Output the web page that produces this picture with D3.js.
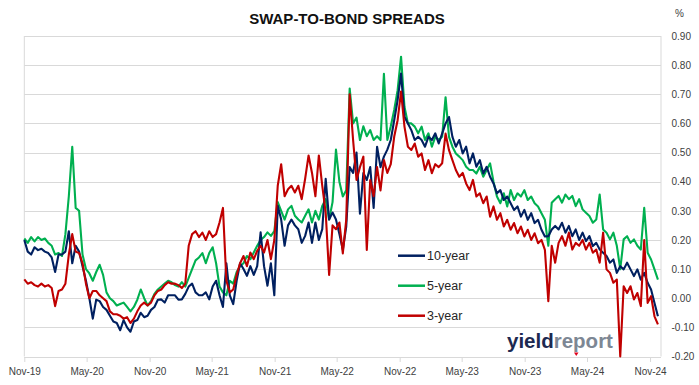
<!DOCTYPE html>
<html>
<head>
<meta charset="utf-8">
<title>Swap-to-bond spreads</title>
<script src="https://cdn.jsdelivr.net/npm/d3@7"></script>
<style>
    body { margin: 0; background: #fff; }
    svg { display: block; font-family: "Liberation Sans", Arial, sans-serif; }
</style>
</head>
<body>
<div id="chart"></div>
<script>
// Readings taken every 10 days, starting 1 Nov 2019
const startDate = "2019-11-01";
const stepDays = 10;
const axisEnd = "2024-12-03";

const tenYear = [
    0.20, 0.16, 0.15, 0.175, 0.165, 0.17, 0.16, 0.155, 0.14, 0.09,
    0.15, 0.15, 0.16, 0.23, 0.12, 0.18, 0.16, 0.11, 0.06, 0.0,
    -0.07, -0.005, -0.01, -0.03, -0.04, -0.06, -0.08, -0.085, -0.11, -0.075,
    -0.10, -0.115, -0.08, -0.075, -0.05, -0.065, -0.06, -0.04, -0.03, -0.005,
    -0.004, -0.015, 0.01, 0.01, 0.01, -0.005, -0.004, 0.015, 0.04, 0.05,
    0.02, 0.01, 0.01, 0.02, -0.004, 0.04, 0.06, 0.01, -0.03, 0.12,
    0.01, -0.02, 0.06, 0.12, 0.10, 0.077, 0.11, 0.08, 0.11, 0.226,
    0.11, 0.043, 0.12, 0.01, 0.317, 0.27, 0.18, 0.25, 0.27, 0.25,
    0.237, 0.19, 0.214, 0.26, 0.19, 0.26, 0.20, 0.237, 0.41, 0.27,
    0.294, 0.27, 0.22, 0.166, 0.246, 0.45, 0.43, 0.50, 0.29, 0.43,
    0.406, 0.45, 0.31, 0.52, 0.45, 0.486, 0.51, 0.543, 0.611, 0.68,
    0.771, 0.623, 0.60, 0.577, 0.543, 0.554, 0.543, 0.52, 0.554, 0.543,
    0.566, 0.531, 0.565, 0.60, 0.622, 0.554, 0.52, 0.543, 0.497, 0.52,
    0.463, 0.497, 0.451, 0.474, 0.428, 0.451, 0.417, 0.394, 0.36, 0.371,
    0.337, 0.349, 0.326, 0.303, 0.315, 0.28, 0.303, 0.269, 0.292, 0.258,
    0.269, 0.235, 0.212, 0.213, 0.236, 0.248, 0.236, 0.259, 0.225, 0.248,
    0.213, 0.236, 0.20, 0.225, 0.196, 0.213, 0.179, 0.19, 0.167, 0.156,
    0.145, 0.122, 0.133, 0.087, 0.11, 0.099, 0.122, 0.099, 0.076, 0.099,
    0.064, 0.087, 0.053, 0.03, -0.016, -0.062
];

const fiveYear = [
    0.205, 0.19, 0.21, 0.195, 0.21, 0.20, 0.205, 0.19, 0.18, 0.15,
    0.155, 0.145, 0.22, 0.35, 0.52, 0.31, 0.30, 0.15, 0.10, 0.085,
    0.06, 0.09, 0.115, 0.08, 0.02, 0.0, -0.01, -0.025, -0.02, -0.015,
    -0.03, -0.045, -0.03, -0.005, 0.03, 0.0, -0.025, -0.01, 0.015, 0.03,
    0.04, 0.05, 0.06, 0.055, 0.045, 0.04, 0.055, 0.04, 0.07, 0.10,
    0.13, 0.14, 0.155, 0.12, 0.155, 0.175, 0.12, 0.04, 0.02, 0.01,
    0.06, 0.05, 0.09, 0.11, 0.12, 0.145, 0.134, 0.157, 0.18, 0.20,
    0.21, 0.226, 0.214, 0.23, 0.33, 0.30, 0.27, 0.305, 0.317, 0.283,
    0.27, 0.26, 0.283, 0.305, 0.26, 0.30, 0.27, 0.317, 0.34, 0.27,
    0.33, 0.51, 0.40, 0.349, 0.371, 0.72, 0.60, 0.62, 0.543, 0.59,
    0.556, 0.577, 0.543, 0.556, 0.543, 0.77, 0.543, 0.59, 0.646, 0.714,
    0.829, 0.657, 0.60, 0.60, 0.589, 0.566, 0.589, 0.543, 0.566, 0.52,
    0.554, 0.543, 0.554, 0.69, 0.554, 0.52, 0.497, 0.486, 0.474, 0.451,
    0.44, 0.44, 0.428, 0.451, 0.417, 0.44, 0.463, 0.40, 0.349, 0.326,
    0.36, 0.315, 0.371, 0.337, 0.36, 0.349, 0.371, 0.337, 0.349, 0.326,
    0.315, 0.292, 0.269, 0.18, 0.328, 0.34, 0.351, 0.328, 0.356, 0.34,
    0.351, 0.316, 0.34, 0.305, 0.293, 0.282, 0.259, 0.27, 0.356, 0.236,
    0.225, 0.202, 0.225, 0.18, 0.10, 0.202, 0.213, 0.19, 0.202, 0.18,
    0.167, 0.31, 0.156, 0.133, 0.099, 0.064
];

const threeYear = [
    0.065, 0.05, 0.055, 0.045, 0.04, 0.05, 0.04, 0.045, 0.035, -0.027,
    0.025, 0.03, 0.05, 0.15, 0.22, 0.16, 0.155, 0.12, 0.05, 0.0,
    0.025, 0.025, 0.01, 0.0, -0.01, -0.045, -0.055, -0.055, -0.06, -0.07,
    -0.065, -0.085, -0.07, -0.045, -0.025, -0.015, -0.025, -0.015, 0.01, 0.025,
    0.03, 0.045, 0.055, 0.05, 0.05, 0.045, 0.035, 0.05, 0.18, 0.22,
    0.23, 0.21, 0.225, 0.20, 0.23, 0.21, 0.22, 0.26, 0.31, 0.06,
    0.02, 0.03, 0.08, 0.12, 0.145, 0.11, 0.157, 0.134, 0.163, 0.18,
    0.157, 0.20, 0.134, 0.20, 0.386, 0.46, 0.35, 0.374, 0.386, 0.363,
    0.386, 0.34, 0.41, 0.49, 0.43, 0.35, 0.49, 0.386, 0.294, 0.08,
    0.25, 0.237, 0.26, 0.154, 0.27, 0.70, 0.543, 0.406, 0.45, 0.486,
    0.166, 0.406, 0.35, 0.45, 0.37, 0.474, 0.43, 0.46, 0.554, 0.611,
    0.709, 0.589, 0.52, 0.509, 0.531, 0.486, 0.497, 0.44, 0.474, 0.429,
    0.46, 0.45, 0.463, 0.565, 0.508, 0.474, 0.44, 0.417, 0.43, 0.394,
    0.371, 0.406, 0.349, 0.36, 0.326, 0.349, 0.28, 0.315, 0.269, 0.292,
    0.246, 0.269, 0.235, 0.258, 0.223, 0.246, 0.212, 0.235, 0.20, 0.223,
    0.189, 0.20, 0.166, -0.01, 0.18, 0.122, 0.19, 0.213, 0.18, 0.225,
    0.167, 0.19, 0.18, 0.20, 0.167, 0.19, 0.156, 0.167, 0.122, 0.225,
    0.099, 0.087, 0.053, 0.064, -0.20, 0.041, 0.018, 0.041, -0.004, 0.018,
    -0.027, 0.20, -0.016, 0.007, -0.062, -0.09
];

const seriesNames = ["10-year", "5-year", "3-year"];
const seriesColors = ["#002060", "#00b050", "#c00000"];

const tickLabels = ["Nov-19", "May-20", "Nov-20", "May-21", "Nov-21", "May-22",
    "Nov-22", "May-23", "Nov-23", "May-24", "Nov-24"];
const yTicks = [-0.2, -0.1, 0, 0.1, 0.2, 0.3, 0.4, 0.5, 0.6, 0.7, 0.8, 0.9];

// Layout
const width = 699;
const height = 385;
const plot = {left: 24.3, right: 661, top: 36, bottom: 356.5};
const gridColor = "#d9d9d9";
const textColor = "#404040";

const parseDay = d3.timeParse("%Y-%m-%d");
const parseTick = d3.timeParse("%b-%y");
const day0 = parseDay(startDate);

const series = [tenYear, fiveYear, threeYear].map((values, i) => ({
    name: seriesNames[i],
    color: seriesColors[i],
    points: values.map((v, j) => ({date: d3.timeDay.offset(day0, j * stepDays), value: v}))
}));

const svg = d3.select("#chart")
    .append("svg")
    .attr("width", width)
    .attr("height", height);

svg.append("rect")
    .attr("width", width)
    .attr("height", height)
    .attr("fill", "#fff");

const x = d3.scaleTime()
    .domain([day0, parseDay(axisEnd)])
    .range([plot.left, plot.right]);

const y = d3.scaleLinear()
    .domain([-0.2, 0.9])
    .range([plot.bottom, plot.top]);

// Horizontal gridlines
svg.append("g")
    .selectAll("line")
    .data(yTicks)
    .join("line")
    .attr("x1", plot.left)
    .attr("x2", plot.right)
    .attr("y1", d => Math.round(y(d)) + 0.5)
    .attr("y2", d => Math.round(y(d)) + 0.5)
    .attr("stroke", gridColor)
    .attr("stroke-width", 1);

// Plot frame (left and right edges)
svg.append("line")
    .attr("x1", plot.left).attr("x2", plot.left)
    .attr("y1", plot.top).attr("y2", plot.bottom)
    .attr("stroke", gridColor);
svg.append("line")
    .attr("x1", plot.right).attr("x2", plot.right)
    .attr("y1", plot.top).attr("y2", plot.bottom)
    .attr("stroke", gridColor);

// Right value axis
const yAxis = svg.append("g")
    .attr("transform", `translate(${plot.right},0)`)
    .call(d3.axisRight(y).tickValues(yTicks).tickSize(0).tickPadding(10.5)
        .tickFormat(d => d.toFixed(2)));
yAxis.select(".domain").remove();
yAxis.selectAll("text")
    .attr("fill", textColor)
    .style("font-size", "10px");

svg.append("text")
    .attr("x", 679.5)
    .attr("y", 16.5)
    .attr("text-anchor", "middle")
    .attr("fill", textColor)
    .style("font-size", "10px")
    .text("%");

// Date axis along the bottom
const xAxis = svg.append("g")
    .attr("transform", `translate(0,${Math.round(plot.bottom) + 0.5})`)
    .call(d3.axisBottom(x).tickValues(tickLabels.map(parseTick)).tickSize(4.5).tickPadding(6)
        .tickFormat(d3.timeFormat("%b-%y")));
xAxis.select(".domain")
    .attr("stroke", gridColor)
    .attr("d", `M${plot.left},0H${plot.right}`);
xAxis.selectAll(".tick line").attr("stroke", gridColor);
xAxis.selectAll("text")
    .attr("fill", textColor)
    .style("font-size", "10px");

// Title
svg.append("text")
    .attr("x", 347)
    .attr("y", 24)
    .attr("text-anchor", "middle")
    .attr("fill", "#111")
    .style("font-size", "15px")
    .style("font-weight", "bold")
    .text("SWAP-TO-BOND SPREADS");

// Watermark, one text in two colours
const logo = svg.append("text")
    .attr("x", 507).attr("y", 347.5)
    .style("font-weight", "bold")
    .style("font-size", "20.5px");
logo.append("tspan").attr("fill", "#1d2951").text("yield");
logo.append("tspan").attr("fill", "#7d8794").text("report");
svg.append("path")
    .attr("d", "M574,352.5h4.5l-2.25,3.5z")
    .attr("fill", "#e0001b");

// Lines: 5-year first, then 10-year, 3-year on top
const line = d3.line()
    .x(d => x(d.date))
    .y(d => y(d.value));

[1, 0, 2].forEach(i => {
    svg.append("path")
        .datum(series[i].points)
        .attr("fill", "none")
        .attr("stroke", series[i].color)
        .attr("stroke-width", 2.1)
        .attr("stroke-linejoin", "round")
        .attr("d", line);
});

// Legend inside the plot
const legend = svg.append("g")
    .selectAll("g")
    .data(series)
    .join("g")
    .attr("transform", (d, i) => `translate(398,${255.7 + i * 30})`);

legend.append("line")
    .attr("x1", 0).attr("x2", 27)
    .attr("stroke", d => d.color)
    .attr("stroke-width", 2.5);

legend.append("text")
    .attr("x", 29)
    .attr("dy", "0.35em")
    .attr("fill", "#262626")
    .style("font-size", "12.5px")
    .text(d => d.name);
</script>
</body>
</html>
